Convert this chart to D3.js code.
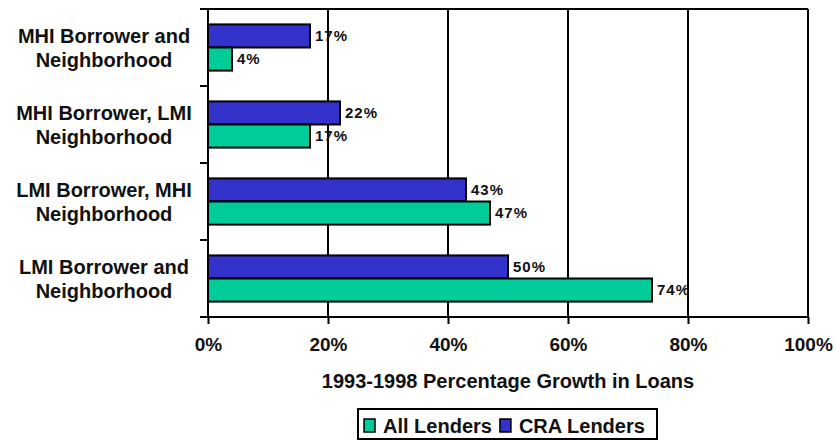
<!DOCTYPE html>
<html>
<head>
<meta charset="utf-8">
<script src="https://cdn.jsdelivr.net/npm/d3@7"></script>
<style>
  body { margin: 0; background: #fff; }
  svg { display: block; font-family: "Liberation Sans", Arial, sans-serif; font-weight: bold; }
</style>
</head>
<body>
<svg id="chart" width="835" height="440"></svg>
<script>
// categories top to bottom, "\n" marks the line break in the label
var categories = [
  "MHI Borrower and\nNeighborhood",
  "MHI Borrower, LMI\nNeighborhood",
  "LMI Borrower, MHI\nNeighborhood",
  "LMI Borrower and\nNeighborhood"
];
var series = ["CRA Lenders", "All Lenders"];
var cra_values = [17, 22, 43, 50];
var all_values = [4, 17, 47, 74];
var x_ticks = [0, 20, 40, 60, 80, 100];
var x_title = "1993-1998 Percentage Growth in Loans";
var legend_order = ["All Lenders", "CRA Lenders"];

function get_color(name) {
  if(name == "CRA Lenders")
    return "#3333cc";
  return "#00cc99";
}

var svg = d3.select("#chart");

// note: "top" is taken by window.top, so use plot_* names
var plot_left = 208, plot_right = 808, plot_top = 9, plot_bottom = 317;

var x = d3.scaleLinear().domain([0, 100]).range([plot_left, plot_right]);

var y0 = d3.scaleBand()
  .domain(categories)
  .range([plot_top, plot_bottom])
  .paddingInner(0.4)
  .paddingOuter(0.2);

var y1 = d3.scaleBand()
  .domain(series)
  .range([0, y0.bandwidth()]);

var data = categories.map(function(c, i) {
  return {name: c, values: [
    {series: "CRA Lenders", v: cra_values[i]},
    {series: "All Lenders", v: all_values[i]}
  ]};
});

// grid lines
svg.append("g").selectAll("line")
  .data(x_ticks.slice(1))
  .enter().append("line")
    .attr("x1", function(d) { return x(d); })
    .attr("x2", function(d) { return x(d); })
    .attr("y1", plot_top)
    .attr("y2", plot_bottom)
    .attr("stroke", "#000")
    .attr("stroke-width", 2);

// top border
svg.append("line")
  .attr("x1", plot_left).attr("x2", plot_right)
  .attr("y1", plot_top).attr("y2", plot_top)
  .attr("stroke", "#000").attr("stroke-width", 2);

// bars
var groups = svg.append("g").selectAll("g")
  .data(data)
  .enter().append("g")
    .attr("transform", function(d) { return "translate(0," + y0(d.name) + ")"; });

groups.selectAll("rect")
  .data(function(d) { return d.values; })
  .enter().append("rect")
    .attr("x", x(0))
    .attr("y", function(d) { return y1(d.series); })
    .attr("width", function(d) { return x(d.v) - x(0); })
    .attr("height", y1.bandwidth())
    .style("fill", function(d) { return get_color(d.series); })
    .attr("stroke", "#000")
    .attr("stroke-width", 2);

groups.selectAll("text")
  .data(function(d) { return d.values; })
  .enter().append("text")
    .attr("x", function(d) { return x(d.v) + 5; })
    .attr("y", function(d) { return y1(d.series) + y1.bandwidth() / 2; })
    .attr("dy", "0.36em")
    .style("font-size", "15px")
    .style("letter-spacing", "1px")
    .attr("fill", "#111")
    .text(function(d) { return d.v + "%"; });

// x axis
var xAxis = svg.append("g")
  .attr("transform", "translate(0," + plot_bottom + ")")
  .call(d3.axisBottom(x).tickValues(x_ticks).tickSize(7).tickPadding(14)
    .tickFormat(function(d) { return d + "%"; }));
xAxis.select(".domain").attr("d", "M" + (plot_left - 8) + ",0H" + plot_right)
  .attr("stroke", "#000").attr("stroke-width", 2);
xAxis.selectAll(".tick line").attr("stroke", "#000").attr("stroke-width", 2);
xAxis.selectAll(".tick text")
  .attr("fill", "#111")
  .style("font-size", "19px")
  .style("font-family", "Liberation Sans, Arial, sans-serif")
  .style("font-weight", "bold");

// y axis, ticks at band edges
var y_edges = categories.map(function(c) { return y0(c) - y0.step() * y0.paddingInner() / 2; });
y_edges[0] = plot_top;
y_edges.push(plot_bottom);
svg.append("line")
  .attr("x1", plot_left).attr("x2", plot_left)
  .attr("y1", plot_top).attr("y2", plot_bottom)
  .attr("stroke", "#000").attr("stroke-width", 2);
svg.append("g").selectAll("line")
  .data(y_edges)
  .enter().append("line")
    .attr("x1", plot_left - 8).attr("x2", plot_left)
    .attr("y1", function(d) { return d; })
    .attr("y2", function(d) { return d; })
    .attr("stroke", "#000").attr("stroke-width", 2);

// category labels
var cat_labels = svg.append("g").selectAll("text")
  .data(categories)
  .enter().append("text")
    .attr("text-anchor", "middle")
    .attr("fill", "#111")
    .style("font-size", "20px")
    .attr("y", function(d) { return y0(d) + y0.bandwidth() / 2; });
cat_labels.each(function(d) {
  var lines = d.split("\n");
  var t = d3.select(this);
  lines.forEach(function(line, i) {
    t.append("tspan")
      .attr("x", 104)
      .attr("dy", i == 0 ? "-0.22em" : "1.2em")
      .text(line);
  });
});

// axis title
svg.append("text")
  .attr("x", (plot_left + plot_right) / 2)
  .attr("y", 388)
  .attr("text-anchor", "middle")
  .attr("fill", "#111")
  .style("font-size", "20px")
  .text(x_title);

// legend
var legend = svg.append("g");
legend.append("rect")
  .attr("x", 358).attr("y", 409)
  .attr("width", 299).attr("height", 30)
  .attr("fill", "#fff")
  .attr("stroke", "#000").attr("stroke-width", 2);

var lx = 364;
legend_order.forEach(function(name) {
  legend.append("rect")
    .attr("x", lx).attr("y", 419)
    .attr("width", 11).attr("height", 13)
    .style("fill", get_color(name))
    .attr("stroke", "#000").attr("stroke-width", 1.5);
  var t = legend.append("text")
    .attr("x", lx + 19).attr("y", 433)
    .attr("fill", "#111")
    .style("font-size", "20px")
    .text(name);
  lx += 19 + t.node().getComputedTextLength() + 8;
});
</script>
</body>
</html>
